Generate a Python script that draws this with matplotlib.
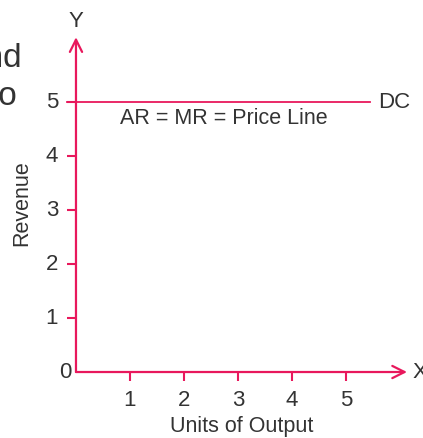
import matplotlib.pyplot as plt

plt.rcParams['font.family'] = ['Liberation Sans', 'DejaVu Sans']

# data
x_ticks = [1, 2, 3, 4, 5]
y_ticks = [1, 2, 3, 4, 5]
price = 5
line_start, line_end = -0.17, 5.44
x_axis_end, y_axis_end = 6.13, 6.2

pink = '#E8185C'
text_color = '#333333'

fig = plt.figure(figsize=(4.23, 4.38), dpi=100)
ax = fig.add_axes([0, 0, 1, 1])
ax.set_xlim(-1.407, 6.426)
ax.set_ylim(-1.222, 6.889)
ax.axis('off')

# Axes with arrow heads
arrow = dict(arrowstyle='->', color=pink, lw=1.6, mutation_scale=22, shrinkA=0, shrinkB=0)
ax.annotate('', xy=(x_axis_end, 0), xytext=(0, 0), arrowprops=arrow)
ax.annotate('', xy=(0, y_axis_end), xytext=(0, 0), arrowprops=arrow)

# Tick marks and labels
for t in x_ticks:
    ax.plot([t, t], [0, -0.16], color=pink, lw=1.5, solid_capstyle='butt')
    ax.text(t, -0.53, str(t), ha='center', va='center', fontsize=16, color=text_color)
for t in y_ticks:
    ax.plot([-0.16, 0], [t, t], color=pink, lw=1.5, solid_capstyle='butt')
    ax.text(-0.33, t, str(t), ha='right', va='center', fontsize=16, color=text_color)
ax.text(-0.08, 0, '0', ha='right', va='center', fontsize=16, color=text_color)

# Price line
ax.plot([line_start, line_end], [price, price], color=pink, lw=1.3)
ax.text(5.59, price, 'DC', ha='left', va='center', fontsize=16, color=text_color)
ax.text(2.74, 4.69, 'AR = MR = Price Line', ha='center', va='center', fontsize=15.5, color=text_color)

# Axis names
ax.text(0, 6.5, 'Y', ha='center', va='center', fontsize=16, color=text_color)
ax.text(6.24, 0, 'X', ha='left', va='center', fontsize=16, color=text_color)
ax.text(3.07, -1.0, 'Units of Output', ha='center', va='center', fontsize=15.5, color=text_color)
ax.text(-1.01, 3.12, 'Revenue', ha='center', va='center', rotation=90, fontsize=15.5, color=text_color)

# Cut-off text from the page on the left
ax.text(-0.99, 5.65, 'and', ha='right', va='baseline', fontsize=24, color=text_color)
ax.text(-1.09, 4.94, 'to', ha='right', va='baseline', fontsize=24, color=text_color)

plt.savefig('out.png', dpi=100)
